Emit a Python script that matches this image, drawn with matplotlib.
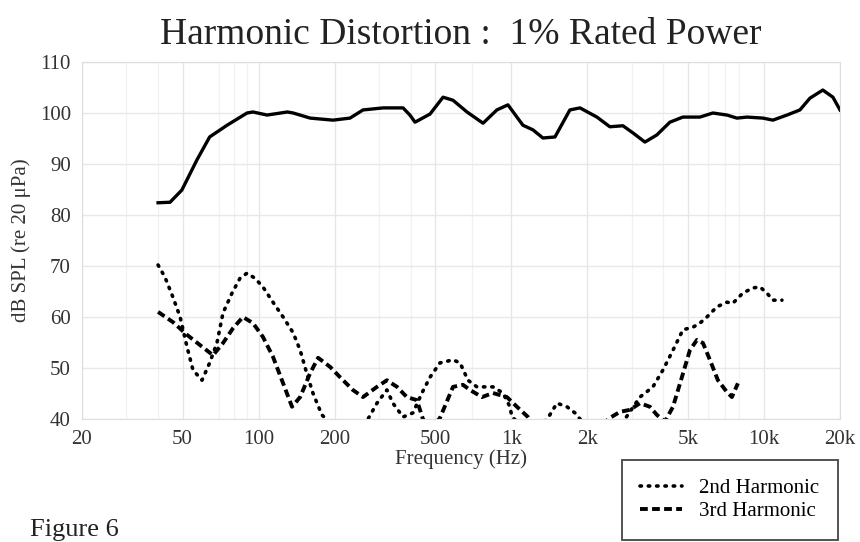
import numpy as np
import matplotlib
matplotlib.use('Agg')
from matplotlib import pyplot as plt

# fundamental response (Hz, dB SPL)
mainFreq = [40, 44.6, 49.7, 57, 64, 75, 90, 95, 108, 130, 137, 160, 197, 230, 259, 311, 373, 397,
            416, 477, 537, 588, 668, 773, 877, 970, 1112, 1218, 1334, 1489, 1706, 1870, 2183, 2456,
            2766, 3030, 3380, 3768, 4244, 4776, 5580, 6280, 7134, 7816, 8570, 9910, 10852, 12340,
            13880, 15200, 17100, 18750, 20000]
mainLevel = [82.4, 82.5, 84.9, 90.8, 95.3, 97.6, 100, 100.2, 99.6, 100.2, 100, 99, 98.6, 99, 100.6,
             101, 101, 99.6, 98.2, 99.8, 103.1, 102.5, 100.2, 98, 100.6, 101.6, 97.6, 96.7, 95.1,
             95.3, 100.6, 101, 99.2, 97.3, 97.5, 96.1, 94.3, 95.7, 98.2, 99.2, 99.2, 100, 99.6, 99,
             99.2, 99, 98.6, 99.6, 100.6, 102.9, 104.5, 103.1, 100.6]

# 2nd harmonic (drops under 40 dB where the trace vanishes)
h2Freq = [40, 42.6, 45.8, 48.9, 52.1, 55, 59.7, 64, 68.4, 72.3, 78.5, 84.4, 90, 96.7, 104, 114, 125,
          137, 146, 155, 164, 178, 215, 271, 294, 322, 340, 373, 408, 443, 477, 522, 588, 627, 674,
          731, 846, 927, 988, 1006, 1200, 1397, 1516, 1661, 1786, 1870, 2300, 2818, 3231, 3636,
          3983, 4366, 4781, 5236, 5580, 5948, 6516, 7134, 7536, 8255, 9044, 9641, 10272, 10852,
          11780]
h2Level = [70.2, 67.8, 63.9, 60, 54.1, 49.6, 47.6, 51, 54.9, 60.8, 64.7, 67.6, 68.6, 67.6, 65.9,
           62.9, 60, 56.9, 53.5, 49, 45.1, 40.8, 37, 40, 43.1, 45.7, 43.1, 40.4, 41.2, 45.1, 48.2,
           51, 51.6, 51, 47.6, 46.3, 46.3, 45.1, 42.4, 40.4, 37, 40.2, 43.1, 42.4, 41.2, 40, 37,
           40, 44.3, 46.3, 49.6, 53.5, 57.5, 58, 58.8, 60, 62, 62.9, 62.7, 64.7, 65.7, 65.9, 64.7,
           63.3, 63.3]

# 3rd harmonic
h3Freq = [40, 45.8, 52.1, 58.6, 66, 72.3, 79.2, 86.7, 95, 104, 114, 125, 135.6, 146, 160, 172, 192,
          210, 236, 259, 294, 322, 353, 386, 423, 447, 480, 522, 588, 644, 686, 766, 846, 961, 1053,
          1164, 1300, 2200, 2415, 2692, 2950, 3231, 3538, 3771, 4056, 4366, 4734, 5093, 5430, 5736,
          6110, 6574, 7134, 7468, 7888]
h3Level = [61, 59, 56.5, 54.5, 52.5, 54.9, 57.8, 60, 58.8, 56.1, 52.2, 47, 42.4, 44.3, 49, 52, 50.2,
           48.2, 45.7, 44.3, 46.3, 47.6, 46.3, 44.3, 43.7, 40, 38, 40.2, 46.3, 46.7, 45.7, 44.3,
           45.1, 44.3, 42.4, 40.4, 37, 37, 40, 41.4, 41.8, 43.1, 42.4, 40.8, 39.5, 42.4, 48.2, 53.5,
           55.5, 54.9, 51.6, 47.6, 45.3, 44.3, 47]

xTicks = [20, 50, 100, 200, 500, 1000, 2000, 5000, 10000, 20000]
xTickLabels = ['20', '50', '100', '200', '500', '1k', '2k', '5k', '10k', '20k']
yTicks = [40, 50, 60, 70, 80, 90, 100, 110]

plt.rcParams['font.family'] = ['Liberation Serif', 'DejaVu Serif']

fig = plt.figure(figsize=(8.6, 5.42), dpi=100)
ax = fig.add_axes([82 / 860, 1 - 419 / 542, 758 / 860, 357 / 542])

ax.plot(mainFreq, mainLevel, color='black', lw=2.4, solid_joinstyle='round')
ax.plot(h2Freq, h2Level, color='black', lw=2.6, linestyle=(0, (0.4, 1.9)),
        dash_capstyle='round', label='2nd Harmonic')
ax.plot(h3Freq, h3Level, color='black', lw=2.8, linestyle=(0, (2.0, 1.1)),
        label='3rd Harmonic')

ax.set_xscale('log')
ax.set_xlim(20, 20000)
ax.set_ylim(40, 110)
ax.set_xticks(xTicks)
ax.set_xticklabels(xTickLabels)
ax.set_xticks([], minor=True)
ax.set_yticks(yTicks)
ax.tick_params(length=0, labelsize=15, colors='#333333', pad=8)

# faint scanned-looking grid
for f in [30, 40, 70, 80, 90, 300, 400, 700, 3000, 4000, 6000, 7000, 8000]:
    ax.axvline(f, color='#f1f1f1', lw=0.9, zorder=0)
for f in xTicks:
    ax.axvline(f, color='#e6e6e6', lw=1.0, zorder=0)
for v in yTicks:
    ax.axhline(v, color='#e8e8e8', lw=1.0, zorder=0)
for s in ax.spines.values():
    s.set_color('#dddddd')

ax.set_xlabel('Frequency (Hz)', fontsize=15, color='#333333', labelpad=0)
ax.set_ylabel('dB SPL (re 20 \u03bcPa)', fontsize=15, color='#333333', labelpad=6)
ax.set_title('Harmonic Distortion :  1% Rated Power', fontsize=27, color='#222222', pad=13)

leg = fig.legend(loc='lower right', bbox_to_anchor=(0.974, 0.004), fontsize=15, frameon=True,
                 fancybox=False, framealpha=1, edgecolor='#444444', handlelength=2.0,
                 borderpad=0.9, labelspacing=0.15, borderaxespad=0)
leg.get_frame().set_linewidth(1.3)

fig.text(30 / 860, 1 - 530 / 542, 'Figure 6', fontsize=19, color='#222222', va='center')

fig.savefig('out.png', dpi=100)
